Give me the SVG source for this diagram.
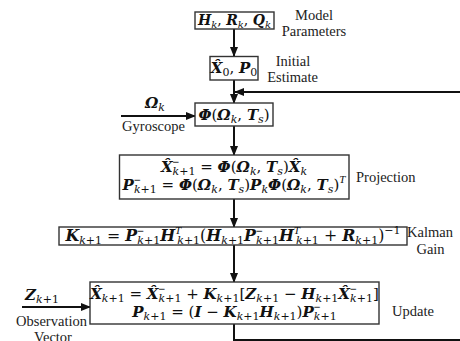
<svg xmlns="http://www.w3.org/2000/svg" width="460" height="341" viewBox="0 0 460 341">
<style>
.bg{fill:#fff}
.box{fill:#fff;stroke:#333;stroke-width:1.4}
.c{fill:none;stroke:#111;stroke-width:2}
.m{font-family:"DejaVu Serif","Liberation Serif",serif;font-style:italic;font-weight:bold;font-size:15px;fill:#111}
.o{font-style:normal;font-weight:normal}
.sb{font-size:11px;font-weight:normal}
.su{font-family:"Liberation Serif",serif;font-size:12px;font-weight:bold;font-style:normal}
.st{font-family:"Liberation Serif",serif;font-size:11px;font-weight:normal;font-style:italic}
.l{font-family:"Liberation Serif","Times New Roman",serif;font-size:14.5px;fill:#222}
</style>
<defs>
<marker id="ah" markerUnits="userSpaceOnUse" markerWidth="10" markerHeight="8" refX="9" refY="4" orient="auto">
<path d="M0,0 L10,4 L0,8 z" fill="#111"/>
</marker>
</defs>
<rect class="bg" width="460" height="341"/>
<g id="connectors">
<path class="c" d="M234,29 V56" marker-end="url(#ah)"/>
<path class="c" d="M234,80 V103" marker-end="url(#ah)"/>
<path class="c" d="M234,126 V155" marker-end="url(#ah)"/>
<path class="c" d="M234,199 V227" marker-end="url(#ah)"/>
<path class="c" d="M234,245 V282" marker-end="url(#ah)"/>
<path class="c" d="M121,116 H195" marker-end="url(#ah)"/>
<path class="c" d="M22,307 H90" marker-end="url(#ah)"/>
<path class="c" d="M234,324 V340 H462 V92 H235" marker-end="url(#ah)"/>
</g>
<g id="model">
<rect class="box" x="195" y="12" width="79" height="17"/>
<text class="m" x="234.5" y="25" text-anchor="middle" style="font-size:14px">H<tspan class="sb" dy="3" style="font-size:10px">k</tspan><tspan class="o" dy="-3">, </tspan>R<tspan class="sb" dy="3" style="font-size:10px">k</tspan><tspan class="o" dy="-3">, </tspan>Q<tspan class="sb" dy="3" style="font-size:10px">k</tspan></text>
<text class="l" x="314" y="20" text-anchor="middle">Model</text>
<text class="l" x="314" y="36" text-anchor="middle">Parameters</text>
</g>
<g id="initial">
<rect class="box" x="210" y="56.5" width="48" height="23.5"/>
<text class="m" x="234" y="73" text-anchor="middle">X&#x302;<tspan class="o sb" dy="3">0</tspan><tspan class="o" dy="-3">, </tspan>P<tspan class="o sb" dy="3">0</tspan></text>
<text class="l" x="293" y="66" text-anchor="middle">Initial</text>
<text class="l" x="292.5" y="81.5" text-anchor="middle">Estimate</text>
</g>
<g id="gyro">
<rect class="box" x="195" y="103" width="78" height="23"/>
<text class="m" x="234" y="119.5" text-anchor="middle">Φ<tspan class="o">(</tspan>Ω<tspan class="sb" dy="3">k</tspan><tspan class="o" dy="-3">, </tspan>T<tspan class="sb" dy="3">s</tspan><tspan class="o" dy="-3">)</tspan></text>
<text class="m" x="155" y="108" text-anchor="middle">Ω<tspan class="sb" dy="3">k</tspan></text>
<text class="l" x="153.5" y="131" text-anchor="middle">Gyroscope</text>
</g>
<g id="projection">
<rect class="box" x="119.5" y="155" width="229.5" height="44"/>
<text class="m" x="234" y="172" text-anchor="middle">X&#x302;<tspan class="su" dy="-6">−</tspan><tspan class="sb" dx="-6.8" dy="9">k<tspan class="o">+1</tspan></tspan><tspan class="o" dy="-3"> = </tspan>Φ<tspan class="o">(</tspan>Ω<tspan class="sb" dy="3">k</tspan><tspan class="o" dy="-3">, </tspan>T<tspan class="sb" dy="3">s</tspan><tspan class="o" dy="-3">)</tspan>X&#x302;<tspan class="sb" dy="3">k</tspan></text>
<text class="m" x="234" y="190" text-anchor="middle">P<tspan class="su" dy="-6">−</tspan><tspan class="sb" dx="-6.8" dy="9">k<tspan class="o">+1</tspan></tspan><tspan class="o" dy="-3"> = </tspan>Φ<tspan class="o">(</tspan>Ω<tspan class="sb" dy="3">k</tspan><tspan class="o" dy="-3">, </tspan>T<tspan class="sb" dy="3">s</tspan><tspan class="o" dy="-3">)</tspan>P<tspan class="sb" dy="3">k</tspan><tspan dy="-3">Φ</tspan><tspan class="o">(</tspan>Ω<tspan class="sb" dy="3">k</tspan><tspan class="o" dy="-3">, </tspan>T<tspan class="sb" dy="3">s</tspan><tspan class="o" dy="-3">)</tspan><tspan class="st" dy="-7">T</tspan></text>
<text class="l" x="356" y="182">Projection</text>
</g>
<g id="gain">
<rect class="box" x="59" y="227" width="348" height="18"/>
<text class="m" x="233" y="240.5" text-anchor="middle" style="font-size:15.8px">K<tspan class="sb" dy="3">k<tspan class="o">+1</tspan></tspan><tspan class="o" dy="-3"> = </tspan>P<tspan class="su" dy="-6">−</tspan><tspan class="sb" dx="-6.8" dy="9">k<tspan class="o">+1</tspan></tspan><tspan dy="-3">H</tspan><tspan class="st" dy="-7">T</tspan><tspan class="sb" dx="-4" dy="10">k<tspan class="o">+1</tspan></tspan><tspan class="o" dy="-3">(</tspan>H<tspan class="sb" dy="3">k<tspan class="o">+1</tspan></tspan><tspan dy="-3">P</tspan><tspan class="su" dy="-6">−</tspan><tspan class="sb" dx="-6.8" dy="9">k<tspan class="o">+1</tspan></tspan><tspan dy="-3">H</tspan><tspan class="st" dy="-7">T</tspan><tspan class="sb" dx="-4" dy="10">k<tspan class="o">+1</tspan></tspan><tspan class="o" dy="-3"> +  </tspan>R<tspan class="sb" dy="3">k<tspan class="o">+1</tspan></tspan><tspan class="o" dy="-3">)</tspan><tspan class="o sb" dy="-7">−1</tspan></text>
<text class="l" x="430" y="237" text-anchor="middle">Kalman</text>
<text class="l" x="430.5" y="254" text-anchor="middle">Gain</text>
</g>
<g id="update">
<rect class="box" x="90" y="282" width="289" height="42"/>
<text class="m" x="234.5" y="299" text-anchor="middle">X&#x302;<tspan class="sb" dy="3">k<tspan class="o">+1</tspan></tspan><tspan class="o" dy="-3"> = </tspan>X&#x302;<tspan class="su" dy="-6">−</tspan><tspan class="sb" dx="-6.8" dy="9">k<tspan class="o">+1</tspan></tspan><tspan class="o" dy="-3"> + </tspan>K<tspan class="sb" dy="3">k<tspan class="o">+1</tspan></tspan><tspan class="o" dy="-3">[</tspan>Z<tspan class="sb" dy="3">k<tspan class="o">+1</tspan></tspan><tspan class="o" dy="-3"> − </tspan>H<tspan class="sb" dy="3">k<tspan class="o">+1</tspan></tspan><tspan dy="-3">X&#x302;</tspan><tspan class="su" dy="-6">−</tspan><tspan class="sb" dx="-6.8" dy="9">k<tspan class="o">+1</tspan></tspan><tspan class="o" dy="-3">]</tspan></text>
<text class="m" x="234.5" y="317" text-anchor="middle">P<tspan class="sb" dy="3">k<tspan class="o">+1</tspan></tspan><tspan class="o" dy="-3"> = (</tspan>I<tspan class="o"> − </tspan>K<tspan class="sb" dy="3">k<tspan class="o">+1</tspan></tspan><tspan dy="-3">H</tspan><tspan class="sb" dy="3">k<tspan class="o">+1</tspan></tspan><tspan class="o" dy="-3">)</tspan>P<tspan class="su" dy="-6">−</tspan><tspan class="sb" dx="-6.8" dy="9">k<tspan class="o">+1</tspan></tspan></text>
<text class="l" x="392" y="316">Update</text>
<text class="m" x="42" y="300" text-anchor="middle">Z<tspan class="sb" dy="3">k<tspan class="o">+1</tspan></tspan></text>
<text class="l" x="51.5" y="326" text-anchor="middle">Observation</text>
<text class="l" x="53" y="342" text-anchor="middle">Vector</text>
</g>
</svg>
